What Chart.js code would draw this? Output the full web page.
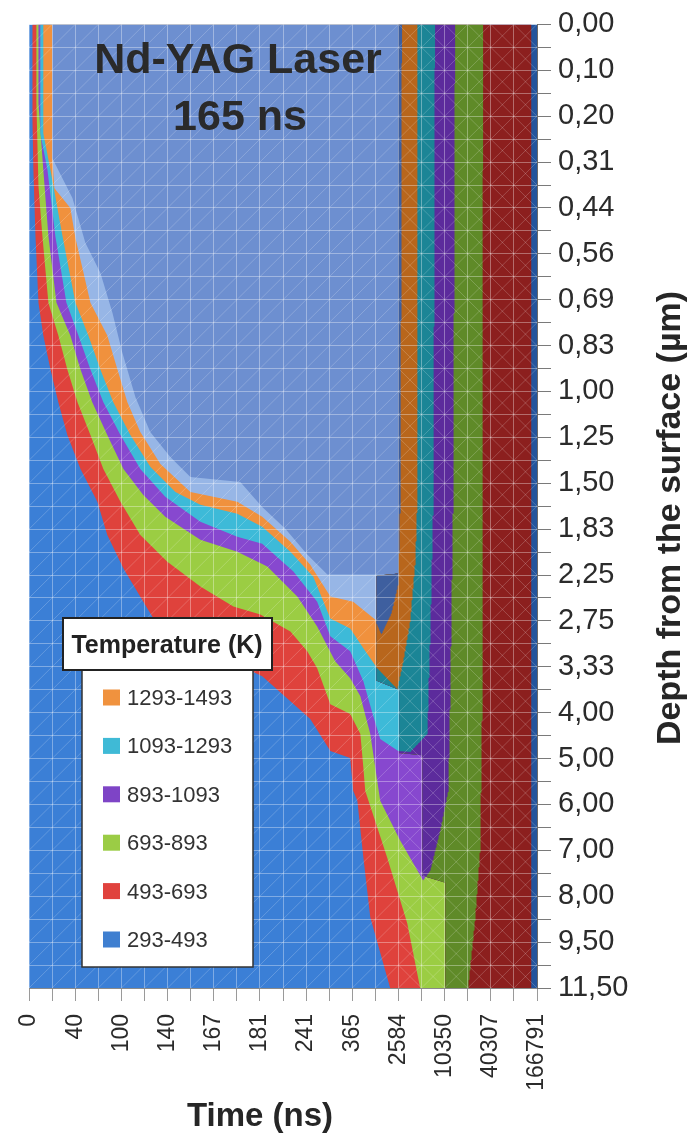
<!DOCTYPE html>
<html>
<head>
<meta charset="utf-8">
<script src="https://cdn.jsdelivr.net/npm/chart.js@4.4.1/dist/chart.umd.min.js"></script>
<style>
html,body{margin:0;padding:0;background:#ffffff;}
#wrap{position:relative;width:699px;height:1137px;}
</style>
</head>
<body>
<div id="wrap"><canvas id="chart" width="699" height="1137"></canvas></div>
<script>
// ---------- labels ----------
const timeLabels = ["0","40","100","140","167","181","241","365","2584","10350","40307","166791"];
const depthLabels = ["0,00","0,10","0,20","0,31","0,44","0,56","0,69","0,83","1,00","1,25","1,50","1,83","2,25","2,75","3,33","4,00","5,00","6,00","7,00","8,00","9,50","11,50"];
const chartTitle = ["Nd-YAG Laser", "165 ns"];
const xTitle = "Time (ns)";
const yTitle = "Depth from the surface (\u00b5m)";
const legendTitle = "Temperature (K)";
const legendItems = ["1293-1493","1093-1293","893-1093","693-893","493-693","293-493"];

// ---------- isotherm outlines [time index, depth index] (region hotter than level lies inside) ----------
const iso493 = [[0.15,0],[0.15,4.18],[0.19,6.35],[0.28,9.22],[0.41,12.13],[0.62,13.56],[0.93,15.04],[1.27,16.47],[1.66,17.90],[2.23,19.38],[2.96,20.81],[3.39,22.25],[4.09,23.72],[4.95,25.16],[5.39,25.89],[6.99,26.89],[8.72,27.76],[10.10,28.41],[11.32,29.50],[12.18,30.28],[13.05,31.67],[13.91,31.97],[14.04,33.40],[14.22,33.84],[14.48,36.31],[14.78,38.92],[15.64,42],[21.75,42],[21.75,0]];
const iso693 = [[0.32,0],[0.32,3.44],[0.41,7.05],[0.58,9.22],[0.84,12.13],[1.27,13.56],[1.66,15.04],[2.10,16.47],[2.66,17.90],[3.22,19.38],[3.96,20.81],[4.82,22.25],[5.99,23.42],[7.42,24.50],[8.85,25.37],[10.02,25.72],[11.32,26.46],[12.05,27.32],[12.48,28.06],[13.05,29.63],[13.91,30.06],[14.35,30.93],[14.48,32.40],[14.56,33.40],[15.51,36.31],[16.38,39.18],[16.94,42],[19.02,42],[19.32,39.05],[19.54,36.01],[19.63,29.50],[19.67,0]];
const iso893 = [[0.41,0],[0.41,3.44],[0.62,6.35],[0.84,9.22],[1.19,12.13],[1.79,13.56],[2.23,15.04],[2.74,16.47],[3.39,17.90],[4.09,19.38],[4.95,20.51],[5.90,21.46],[7.42,22.46],[9.02,22.98],[10.32,23.63],[11.62,24.94],[12.48,26.24],[13.26,27.76],[13.91,28.50],[14.35,29.28],[14.78,30.93],[15.21,33.84],[16.08,35.58],[17.07,37.31],[17.38,36.88],[17.81,35.14],[18.16,33.40],[18.24,29.50],[18.37,20.81],[18.46,0]];
const iso1093 = [[0.49,0],[0.49,4.75],[0.80,6.35],[1.14,9.22],[1.62,12.13],[2.14,13.56],[2.66,15.04],[3.22,16.47],[3.96,17.90],[4.82,19.38],[5.90,20.59],[7.42,21.68],[9.02,22.33],[10.10,22.64],[11.45,23.85],[12.48,25.16],[13.05,26.67],[13.91,27.32],[14.48,28.63],[14.91,30.15],[15.21,31.15],[15.99,31.67],[16.51,31.71],[17.25,30.93],[17.38,26.59],[17.51,20.81],[17.59,0]];
const iso1293 = [[0.62,0],[0.62,4.75],[0.93,6.35],[1.45,9.22],[2.01,12.13],[2.57,13.56],[3.09,15.04],[3.65,16.47],[4.39,17.90],[5.26,19.29],[6.34,20.38],[7.42,20.94],[9.02,21.33],[10.10,21.90],[11.32,22.98],[12.31,24.07],[13.05,25.89],[13.91,26.33],[14.48,27.19],[15.08,28.06],[15.95,28.97],[16.21,27.76],[16.51,26.02],[16.73,23.42],[16.82,20.81],[16.82,0]];
const iso1493 = [[1.01,0],[1.01,5.83],[1.10,7.14],[1.79,8.00],[2.01,9.31],[2.31,10.61],[2.66,12.13],[3.39,13.56],[3.83,15.04],[4.26,16.47],[4.82,17.77],[5.69,19.16],[6.99,20.38],[9.02,20.81],[10.10,21.46],[11.32,22.55],[12.18,23.55],[13.05,24.94],[14.04,25.16],[14.99,25.94],[15.26,26.59],[15.69,25.68],[15.99,24.42],[16.08,20.81],[16.16,0]];
const iso1693 = [[1.01,0],[1.01,5.83],[1.88,7.57],[2.44,9.52],[3.09,10.82],[3.61,12.56],[4.04,14.30],[4.61,16.25],[5.25,17.77],[6.12,18.86],[6.99,19.73],[9.15,19.94],[10.10,21.03],[11.10,21.98],[12.05,23.11],[12.92,23.98],[15.99,23.98],[16.03,20.81],[16.03,0]];
// boundary right of which the surface faces are rendered in shadow
const shadeBoundary = [[15.99,0],[15.99,23.94],[15.04,24.03],[15.04,28.6],[16.03,29.0],[16.03,31.76],[17.03,31.85],[17.03,37.1],[18.03,37.41],[18.03,42]];

// ---------- styles ----------
const FONT = '"Liberation Sans", Arial, Helvetica, sans-serif';
const lightColors = ['#3b7fd6','#df423c','#9bcd43','#8748cf','#3dbad8','#f0913d','#97b6e6','#6d8fd0'];
const darkColors  = ['#23549c','#8c1f1e','#5f8a28','#5c2b9c','#1b8596','#b8661c','#3e5f9f','#3e5f9f'];
const legendColors = ['#f0923e','#3fbad6','#7e44c6','#9bcc45','#e0423d','#3f7fd0'];

const X_MAX = 2 * (timeLabels.length - 1);
const Y_MAX = 2 * (depthLabels.length - 1);
const plotOutline = [[0,0],[X_MAX,0],[X_MAX,Y_MAX],[0,Y_MAX]];
const outlines = [plotOutline, iso493, iso693, iso893, iso1093, iso1293, iso1493, iso1693];

function shadeX(y) {
  for (let k = 0; k < shadeBoundary.length - 1; k++) {
    const a = shadeBoundary[k], b = shadeBoundary[k+1];
    if (y <= b[1]) {
      const t = (b[1] === a[1]) ? 0 : (y - a[1]) / (b[1] - a[1]);
      return a[0] + Math.max(0, Math.min(1, t)) * (b[0] - a[0]);
    }
  }
  return shadeBoundary[shadeBoundary.length-1][0];
}
function toPoints(poly) { return poly.map(p => ({x: p[0], y: p[1]})); }
function shadowPart(poly) {
  const out = [];
  const n = poly.length;
  for (let i = 0; i < n; i++) {
    const a = poly[i], b = poly[(i+1) % n];
    const steps = Math.max(1, Math.ceil(Math.max(Math.abs(b[0]-a[0]), Math.abs(b[1]-a[1])) / 0.03));
    for (let k = 0; k < steps; k++) {
      const t = k / steps;
      const x = a[0] + (b[0]-a[0]) * t, y = a[1] + (b[1]-a[1]) * t;
      out.push({x: Math.max(x, shadeX(y)), y: y});
    }
  }
  return out;
}

const datasets = [];
let seq = 0;
const TOTAL = 100;
outlines.forEach((poly, i) => {
  datasets.push({data: toPoints(poly), fill: 'shape', backgroundColor: lightColors[i], borderColor: 'transparent', borderWidth: 0, pointRadius: 0, order: TOTAL - (seq++)});
});
outlines.forEach((poly, i) => {
  datasets.push({data: shadowPart(poly), fill: 'shape', backgroundColor: darkColors[i], borderColor: 'transparent', borderWidth: 0, pointRadius: 0, order: TOTAL - (seq++)});
});
// surface mesh diagonals
const mesh = [];
for (let c = 1; c < X_MAX + Y_MAX; c++) {
  const x0 = Math.max(0, c - Y_MAX), x1 = Math.min(X_MAX, c);
  mesh.push({x: x0, y: c - x0}, {x: x1, y: c - x1}, {x: null, y: null});
}
for (let c = 16 - Y_MAX; c < X_MAX; c++) {
  const xa = Math.max(16, c), xb = Math.min(X_MAX, c + Y_MAX);
  if (xb > xa) mesh.push({x: xa, y: xa - c}, {x: xb, y: xb - c}, {x: null, y: null});
}
datasets.push({data: mesh, fill: false, borderColor: 'rgba(255,255,255,0.2)', borderWidth: 1, pointRadius: 0, spanGaps: false, order: 0});

const overlayPlugin = {
  id: 'overlay',
  afterDraw(chart) {
    const ctx = chart.ctx;
    ctx.save();
    ctx.textAlign = 'center';
    ctx.textBaseline = 'alphabetic';
    ctx.fillStyle = '#2a2a2a';
    ctx.font = 'bold 43px ' + FONT;
    ctx.fillText(chartTitle[0], 238, 73);
    ctx.fillText(chartTitle[1], 240, 130);
    // axis titles
    ctx.fillStyle = '#262626';
    ctx.font = 'bold 33px ' + FONT;
    ctx.fillText(xTitle, 260, 1126);
    ctx.save();
    ctx.translate(680, 518);
    ctx.rotate(-Math.PI / 2);
    ctx.font = 'bold 34px ' + FONT;
    ctx.fillText(yTitle, 0, 0);
    ctx.restore();
    // legend
    ctx.fillStyle = '#ffffff';
    ctx.fillRect(82, 668, 171, 299);
    ctx.strokeStyle = '#333333';
    ctx.lineWidth = 1.5;
    ctx.strokeRect(82, 668, 171, 299);
    ctx.fillStyle = '#ffffff';
    ctx.fillRect(63, 618, 209, 52);
    ctx.strokeStyle = '#222222';
    ctx.lineWidth = 2;
    ctx.strokeRect(63, 618, 209, 52);
    ctx.fillStyle = '#222222';
    ctx.font = 'bold 25px ' + FONT;
    ctx.textAlign = 'center';
    ctx.fillText(legendTitle, 167, 653);
    ctx.textAlign = 'left';
    ctx.font = '22px ' + FONT;
    legendItems.forEach((lab, i) => {
      const base = 705 + i * 48.4;
      ctx.fillStyle = legendColors[i];
      ctx.fillRect(103, base - 15.5, 17, 16);
      ctx.fillStyle = '#333333';
      ctx.fillText(lab, 127, base);
    });
    ctx.restore();
  }
};

new Chart(document.getElementById('chart'), {
  type: 'line',
  data: { datasets: datasets },
  options: {
    responsive: false,
    animation: false,
    events: [],
    devicePixelRatio: 1,
    layout: { padding: { left: 29, top: 21, right: 0, bottom: 0 } },
    plugins: { legend: { display: false }, tooltip: { enabled: false } },
    elements: { point: { radius: 0 }, line: { tension: 0 } },
    scales: {
      x: {
        type: 'linear', min: 0, max: X_MAX, position: 'bottom',
        afterBuildTicks: (s) => { s.ticks = Array.from({length: X_MAX + 1}, (_, i) => ({value: i})); },
        afterFit: (s) => { s.height = 149; },
        ticks: {
          autoSkip: false, maxRotation: 90, minRotation: 90, padding: 13,
          color: '#2b2b2b', font: { family: FONT, size: 23 },
          callback: (v) => (v % 2 === 0 ? timeLabels[v / 2] : '')
        },
        grid: { z: 1, color: 'rgba(255,255,255,0.35)', lineWidth: 1, tickLength: 13, tickColor: '#9a9a9a' },
        border: { display: true, color: '#8a8a8a', width: 1, z: 2 }
      },
      y: {
        type: 'linear', min: 0, max: Y_MAX, reverse: true, position: 'right',
        afterBuildTicks: (s) => { s.ticks = Array.from({length: Y_MAX + 1}, (_, i) => ({value: i})); },
        afterFit: (s) => { s.width = 162; },
        ticks: {
          autoSkip: false, padding: 7,
          color: '#2b2b2b', font: { family: FONT, size: 29 },
          callback: (v) => (v % 2 === 0 ? depthLabels[v / 2] : '')
        },
        grid: { z: 1, color: 'rgba(255,255,255,0.35)', lineWidth: 1, tickLength: 14, tickColor: '#7a7a7a' },
        border: { display: true, color: '#6a6a6a', width: 1, z: 2 }
      }
    }
  },
  plugins: [overlayPlugin]
});
</script>
</body>
</html>
